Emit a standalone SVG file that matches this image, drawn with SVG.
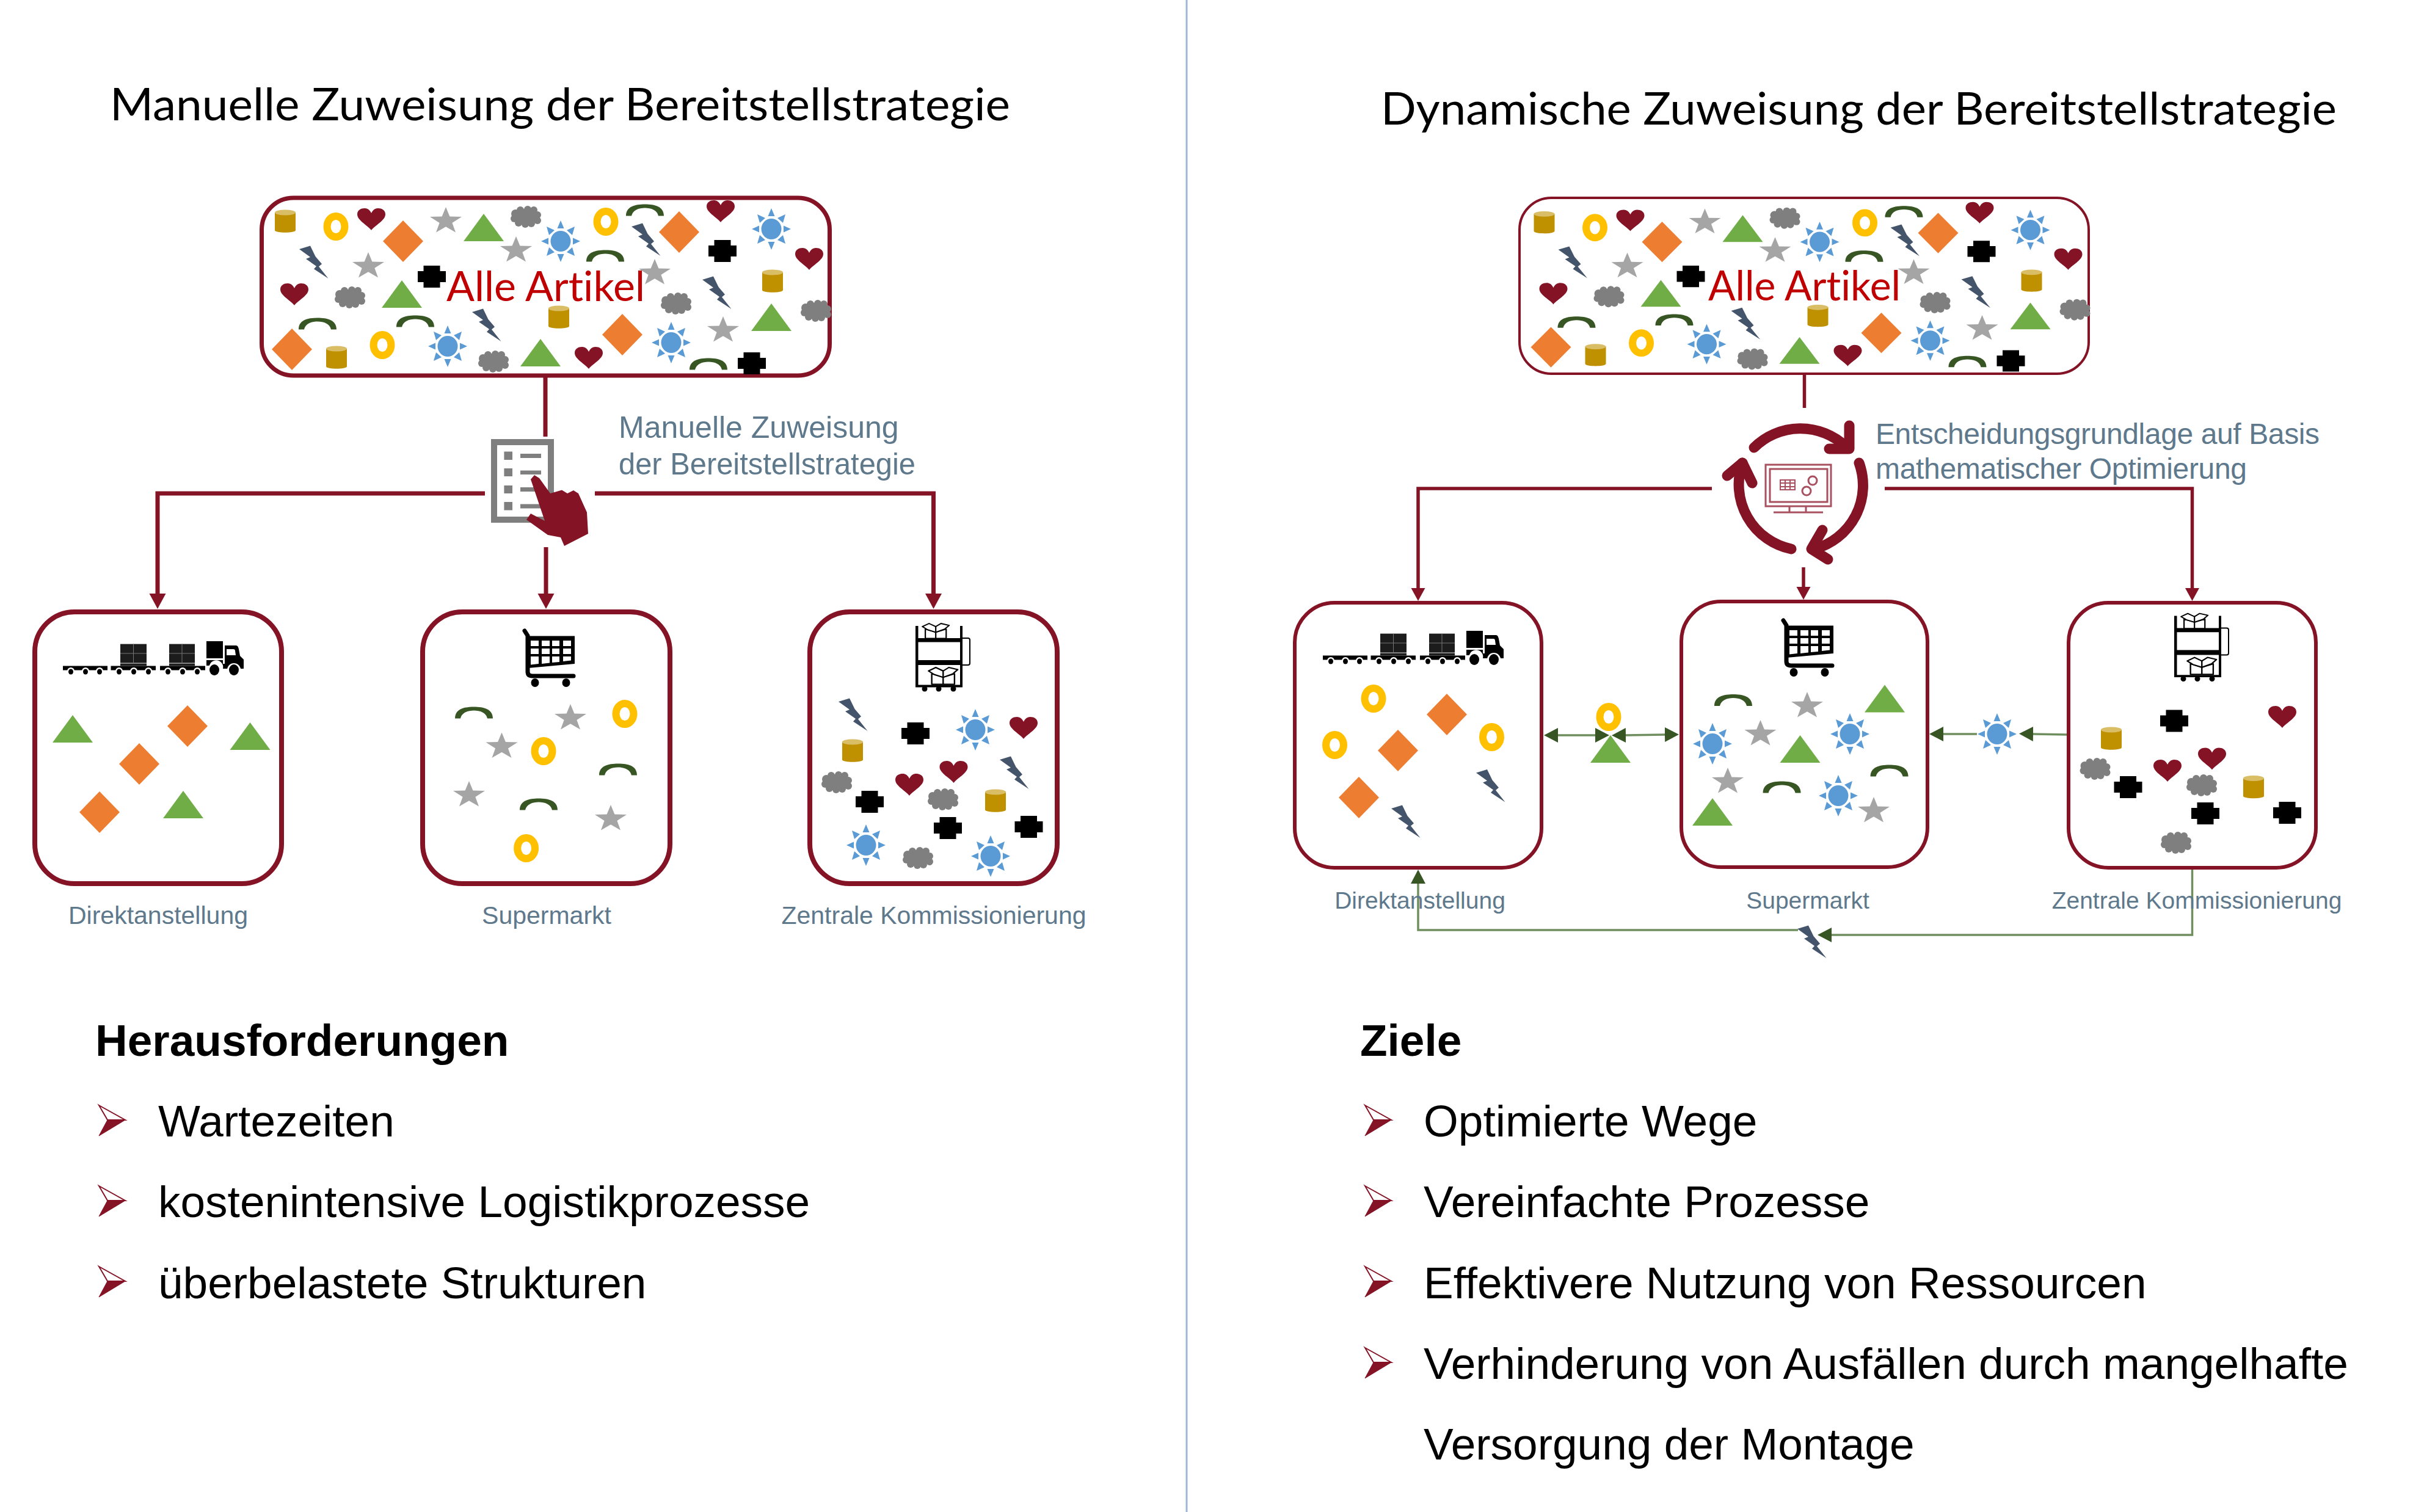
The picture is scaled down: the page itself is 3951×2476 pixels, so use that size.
<svg xmlns="http://www.w3.org/2000/svg" width="3951" height="2476" viewBox="0 0 3951 2476">
<style>
.box{fill:#fff;stroke:#841325;stroke-width:8}
.boxT{fill:#fff;stroke:#841325;stroke-width:6}
.red{fill:none;stroke:#841325;stroke-width:7}
.redT{fill:none;stroke:#841325;stroke-width:5.5}
.grn{fill:none;stroke:#6F8F5F;stroke-width:3.5}
.title{font-family:Lato,"Open Sans",sans-serif;font-size:74px;fill:#000;font-variant-ligatures:none}
.alle{font-family:Lato,"Open Sans",sans-serif;font-size:68px;fill:#C00000;font-variant-ligatures:none}
.lab{font-family:"Liberation Sans",Arial,sans-serif;fill:#5E788C;text-anchor:middle}
.note{font-family:"Liberation Sans",Arial,sans-serif;fill:#5E788C}
.head{font-family:"Liberation Sans",Arial,sans-serif;font-weight:700;font-size:73px;fill:#000}
.item{font-family:"Liberation Sans",Arial,sans-serif;font-size:73px;fill:#000}
.cyc{fill:none;stroke:#841325;stroke-width:17;stroke-linecap:round;stroke-linejoin:round}
.thin{fill:none;stroke:#A8505F;stroke-width:3}
</style>
<defs>
<marker id="ar" markerUnits="userSpaceOnUse" markerWidth="28" markerHeight="28" refX="1" refY="14" orient="auto"><path d="M0 .5L25 14L0 27.5Z" fill="#841325"/></marker>
<marker id="arS" markerUnits="userSpaceOnUse" markerWidth="24" markerHeight="24" refX="1" refY="12" orient="auto"><path d="M0 .5L21 12L0 23.5Z" fill="#841325"/></marker>
<marker id="ag" markerUnits="userSpaceOnUse" markerWidth="24" markerHeight="26" refX="1" refY="13" orient="auto-start-reverse"><path d="M0 1L23 13L0 25Z" fill="#375623"/></marker>
<path id="heart" fill="#841325" d="M0 18C-6 10-23 2-23-8C-23-15-17-18-11-18C-5-18-2-14 0-10C2-14 5-18 11-18C17-18 23-15 23-8C23 2 6 10 0 18Z"/>
<polygon id="dia" fill="#ED7D31" points="0,-34 33,0 0,34 -33,0"/>
<polygon id="tri" fill="#70AD47" points="0,-23 33,22 -33,22"/>
<polygon id="star" fill="#A5A5A5" points="0,-23 6.4,-7.5 26,-7.1 10.4,2.9 16,18.6 0,9.2 -16,18.6 -10.4,2.9 -26,-7.1 -6.4,-7.5"/>
<ellipse id="ring" rx="14.5" ry="17" fill="none" stroke="#FFC000" stroke-width="12"/>
<g id="cyl"><path fill="#BF9000" d="M-17-14V15C-17 20 17 20 17 15V-14Z"/><ellipse cy="-14" rx="17" ry="4.5" fill="#D9BE66"/></g>
<g id="cloud" fill="#7F7F7F"><ellipse rx="20" ry="13"/><circle cx="-17" cy="-5" r="7"/><circle cx="-9" cy="-11" r="6"/><circle cx="3" cy="-12" r="6"/><circle cx="13" cy="-11" r="6"/><circle cx="19" cy="-3" r="6"/><circle cx="19" cy="6" r="6"/><circle cx="9" cy="11" r="6"/><circle cx="-1" cy="12" r="6"/><circle cx="-12" cy="10" r="6"/><circle cx="-19" cy="3" r="6"/></g>
<g id="sun" fill="#5B9BD5"><ellipse rx="16.5" ry="17"/><path d="M0-34L5.5-21H-5.5ZM0 34L5.5 21H-5.5ZM32 0L20 5.5V-5.5ZM-32 0L-20 5.5V-5.5ZM23-24L19-10L10-18ZM-23-24L-19-10L-10-18ZM23 24L19 10L10 18ZM-23 24L-19 10L-10 18Z"/></g>
<path id="arc" fill="#375623" d="M-31 9.5C-31-6-16-9.5 0-9.5C16-9.5 31-6 31 9.5H22C20 0 10-3.5 0-3.5C-10-3.5-20 0-22 9.5Z"/>
<polygon id="bolt" fill="#44546A" points="-24,-21 -6,-26.5 2.5,-9 13,3.3 8,7.5 23.5,27 0,11.6 4,7 -13,-5 -6,-8"/>
<path id="plus" fill="#000" d="M-13.5-18H13.5V-9H23V9H13.5V18H-13.5V9H-23V-9H-13.5Z"/>
<g id="truck"><g fill="#000"><rect y="40.5" width="73" height="7"/><rect x="78.5" y="40.5" width="73.5" height="7"/><rect x="159" y="40.5" width="74" height="7"/></g>
<g fill="#fff"><circle cx="13" cy="49" r="6"/><circle cx="37" cy="49" r="6"/><circle cx="60" cy="49" r="6"/><circle cx="92" cy="49" r="6"/><circle cx="116" cy="49" r="6"/><circle cx="140" cy="49" r="6"/><circle cx="172" cy="49" r="6"/><circle cx="196" cy="49" r="6"/><circle cx="220" cy="49" r="6"/></g>
<g fill="#000"><ellipse cx="13" cy="50" rx="4" ry="4.5"/><ellipse cx="37" cy="50" rx="4" ry="4.5"/><ellipse cx="60" cy="50" rx="4" ry="4.5"/><ellipse cx="92" cy="50" rx="4" ry="4.5"/><ellipse cx="116" cy="50" rx="4" ry="4.5"/><ellipse cx="140" cy="50" rx="4" ry="4.5"/><ellipse cx="172" cy="50" rx="4" ry="4.5"/><ellipse cx="196" cy="50" rx="4" ry="4.5"/><ellipse cx="220" cy="50" rx="4" ry="4.5"/></g>
<g fill="#1C1C1C"><rect x="94" y="4.6" width="43" height="31"/><rect x="174" y="4.6" width="42" height="31"/><rect x="94" y="36.5" width="43" height="4"/><rect x="174" y="36.5" width="42" height="4"/></g>
<path stroke="#777" stroke-width="1" d="M94 20H137M115.500 4.600V35.600M174 20H216M195 4.600V35.600"/>
<path fill="#000" d="M235 0H262V28H235ZM235 31H262V37H265V7H283C286 7 287 9 288 13L290 24L296 30V45H291A11 11 0 0 0 270 45H262A11 11 0 0 0 240 40L235 40Z"/>
<path fill="#fff" d="M268 13H279C281 13 282 14 282 16L283 23H268Z"/>
<circle cx="248" cy="47" r="11" fill="#fff"/><circle cx="280" cy="47" r="11" fill="#fff"/><ellipse cx="248" cy="47" rx="8" ry="9" fill="#000"/><ellipse cx="280" cy="47" rx="8" ry="9" fill="#000"/></g>
<g id="cart"><path fill="none" stroke="#000" stroke-width="7" stroke-linecap="round" d="M4 3L9 11V70C9 75 12 77 17 77H84"/><path fill="#000" d="M9.500 11.500H86V57L9.500 64Z"/>
<path fill="#fff" d="M14 19H27V28H14ZM32 19H45V28H32ZM49 19H61V28H49ZM67 19H80V28H67ZM14 32H27V41H14ZM32 32H45V41H32ZM49 32H61V41H49ZM67 32H80V41H67ZM14 45H27V57L14 58.500ZM32 45H45V55.500L32 57ZM49 45H61V54L49 55ZM67 45H80V51.500L67 53Z"/>
<ellipse cx="21" cy="88" rx="6.500" ry="7"/><ellipse cx="72" cy="88" rx="6.500" ry="7"/></g>
<g id="obox" fill="#fff" stroke="#000" stroke-width="1.800" stroke-linejoin="round"><path d="M5 9V24H33V9L19 14Z"/><path d="M19 14V24"/><path d="M19 14L8 10L1 5L10 0L19 5L26 0L37 3L31 9Z"/><path d="M19 5V14"/></g>
<g id="shelf"><path fill="none" stroke="#000" stroke-width="2" d="M77 24H86Q89 24 89 27V65Q89 68 86 68H77"/><path fill="#000" d="M0 4H4.500V24H73V4H77V104.500H0ZM4.500 30.600V60H73V30.600ZM4.500 68V100.600H73V68Z"/><use href="#obox" transform="translate(10 0) scale(1.220 1.020)"/><use href="#obox" transform="translate(20 72) scale(1.330 1.150)"/><g fill="#000"><circle cx="15" cy="107" r="4.500"/><circle cx="38" cy="107" r="4.500"/><circle cx="62" cy="107" r="4.500"/></g></g>
<g id="bullet"><path fill="#fff" stroke="#841325" stroke-width="2" d="M1 1L44 25L15 25Z"/><path fill="#841325" stroke="#841325" stroke-width="1" d="M15 25H44L1 51Z"/></g>
<g id="cluster"><use href="#cyl" x="467" y="362"/><use href="#ring" x="550" y="371"/><use href="#heart" x="608" y="359"/><use href="#dia" x="660" y="395"/><use href="#star" x="730" y="362"/><use href="#tri" x="792" y="373"/><use href="#cloud" x="861" y="355"/><use href="#ring" x="992" y="363"/><use href="#arc" x="1056" y="344"/><use href="#bolt" x="1058" y="392"/><use href="#dia" x="1112" y="380"/><use href="#heart" x="1180" y="346"/><use href="#sun" x="1263" y="375"/><use href="#star" x="845" y="410"/><use href="#sun" x="918" y="395"/><use href="#arc" x="991" y="419"/><use href="#plus" x="1183" y="411"/><use href="#heart" x="1325" y="424"/><use href="#bolt" x="514" y="429"/><use href="#star" x="603" y="436"/><use href="#plus" x="707" y="453"/><use href="#star" x="1072" y="447"/><use href="#heart" x="482" y="482"/><use href="#cloud" x="573" y="487"/><use href="#tri" x="658" y="482"/><use href="#bolt" x="1174" y="479"/><use href="#cyl" x="1265" y="460"/><use href="#cloud" x="1107" y="497"/><use href="#cloud" x="1336" y="509"/><use href="#tri" x="1263" y="520"/><use href="#arc" x="520" y="530"/><use href="#arc" x="680" y="526"/><use href="#bolt" x="797" y="532"/><use href="#cyl" x="915" y="519"/><use href="#dia" x="1019" y="548"/><use href="#star" x="1184" y="541"/><use href="#dia" x="478" y="572"/><use href="#cyl" x="551" y="585"/><use href="#ring" x="626" y="565"/><use href="#sun" x="733" y="567"/><use href="#cloud" x="808" y="592"/><use href="#tri" x="885" y="578"/><use href="#heart" x="964" y="586"/><use href="#sun" x="1099" y="561"/><use href="#arc" x="1160" y="596"/><use href="#plus" x="1231" y="595"/></g>
</defs>
<rect width="3951" height="2476" fill="#fff"/>
<line x1="1943" y1="0" x2="1943" y2="2476" stroke="#9DB7D5" stroke-width="3"/>
<text class="title" x="180" y="197" textLength="1474" lengthAdjust="spacingAndGlyphs">Manuelle Zuweisung der Bereitstellstrategie</text>
<text class="title" x="2261" y="204" textLength="1565" lengthAdjust="spacingAndGlyphs">Dynamische Zuweisung der Bereitstellstrategie</text>

<g id="connectors">
<path class="red" d="M893 618V715"/>
<path class="red" marker-end="url(#ar)" d="M794 808H258V973"/>
<path class="red" marker-end="url(#ar)" d="M894 896V973"/>
<path class="red" marker-end="url(#ar)" d="M974 808H1528.500V973"/>
<path class="redT" d="M2954.500 613V668"/>
<path class="redT" marker-end="url(#arS)" d="M2803 800H2322V964"/>
<path class="redT" marker-end="url(#arS)" d="M2953 929V962"/>
<path class="redT" marker-end="url(#arS)" d="M3086 800H3589.500V964"/>
<line class="grn" x1="2550" y1="1204" x2="2613" y2="1204" marker-start="url(#ag)" marker-end="url(#ag)"/>
<line class="grn" x1="2661" y1="1204" x2="2727" y2="1203" marker-start="url(#ag)" marker-end="url(#ag)"/>
<line class="grn" x1="3237" y1="1202" x2="3181" y2="1202" marker-end="url(#ag)"/>
<line class="grn" x1="3385" y1="1203" x2="3328" y2="1202" marker-end="url(#ag)"/>
<path class="grn" marker-end="url(#ag)" d="M3589.500 1424V1531H2998"/>
<path class="grn" marker-end="url(#ag)" d="M2944 1523H2322V1446"/>
</g>

<g id="alle-artikel-links"><rect class="box" style="stroke-width:7" x="428.500" y="324" width="930" height="291" rx="52"/><use href="#cluster"/><text class="alle" x="731" y="493" textLength="325" lengthAdjust="spacingAndGlyphs">Alle Artikel</text></g>
<g id="zuweisung-manuell"><rect x="809" y="724" width="93" height="127" fill="#fff" stroke="#7F7F7F" stroke-width="10"/>
<path fill="#7F7F7F" d="M825.400 739.500H839V753H825.400ZM825.400 767H839V780H825.400ZM825.400 795H839V808H825.400ZM825.400 822H839V835.600H825.400ZM852 743H886V750H852ZM852 770.600H886V777H852ZM852 798H886V805H852ZM852 825.600H886V832.500H852Z"/>
<path fill="#841325" d="M869 785L875 778L883 783L901 808L920 802.500L929 808L939 803L947 808L961 839L963 874L924 894L918 880L897 876L862 851L869 841L892 853Z"/></g>
<text class="note" font-size="50" x="1013" y="717">Manuelle Zuweisung</text>
<text class="note" font-size="50" x="1013" y="777" textLength="486" lengthAdjust="spacingAndGlyphs">der Bereitstellstrategie</text>

<g id="direkt-links"><rect class="box" x="57" y="1002" width="404" height="445" rx="65"/><use href="#truck" x="103" y="1050"/><use href="#tri" x="119" y="1194"/><use href="#tri" x="409.500" y="1206"/><use href="#tri" x="300" y="1318"/><use href="#dia" x="307" y="1189"/><use href="#dia" x="228" y="1251"/><use href="#dia" x="163" y="1330"/></g>
<text class="lab" font-size="41" x="259" y="1513">Direktanstellung</text>
<g id="supermarkt-links"><rect class="box" x="692" y="1002" width="405" height="445" rx="65"/><use href="#cart" x="855" y="1030"/><use href="#arc" x="776" y="1167"/><use href="#star" x="934" y="1176"/><use href="#star" x="821.500" y="1222.500"/><use href="#ring" x="890" y="1230"/><use href="#arc" x="1012" y="1260"/><use href="#ring" x="1023" y="1169"/><use href="#star" x="1000" y="1341"/><use href="#star" x="768" y="1302"/><use href="#arc" x="882" y="1317"/><use href="#ring" x="861.600" y="1389"/></g>
<text class="lab" font-size="41" x="895" y="1513">Supermarkt</text>
<g id="zentral-links"><rect class="box" x="1326" y="1002" width="405" height="445" rx="65"/><use href="#shelf" x="1499" y="1021"/><use href="#bolt" x="1397" y="1170"/><use href="#plus" x="1499" y="1201"/><use href="#sun" x="1597" y="1195"/><use href="#heart" x="1676" y="1192"/><use href="#cyl" x="1396" y="1229"/><use href="#bolt" x="1661" y="1265"/><use href="#heart" x="1561.500" y="1264"/><use href="#heart" x="1489" y="1285"/><use href="#cloud" x="1370" y="1281"/><use href="#plus" x="1424" y="1313"/><use href="#cloud" x="1544" y="1309"/><use href="#cyl" x="1630" y="1311"/><use href="#plus" x="1552" y="1356"/><use href="#plus" x="1684.500" y="1354"/><use href="#sun" x="1418" y="1384"/><use href="#cloud" x="1503" y="1405"/><use href="#sun" x="1622" y="1402"/></g>
<text class="lab" font-size="41" x="1529" y="1513">Zentrale Kommissionierung</text>

<g id="herausforderungen"><text class="head" x="156" y="1729">Herausforderungen</text><use href="#bullet" x="161" y="1809"/><text class="item" x="259" y="1861">Wartezeiten</text><use href="#bullet" x="161" y="1941"/><text class="item" x="259" y="1993">kostenintensive Logistikprozesse</text><use href="#bullet" x="161" y="2073"/><text class="item" x="259" y="2125.500">überbelastete Strukturen</text></g>

<g id="alle-artikel-rechts"><rect class="boxT" style="stroke-width:4" x="2488" y="324" width="932" height="288" rx="52"/><use href="#cluster" transform="translate(2061.500 11.400) scale(1 .974)"/><text class="alle" x="2797" y="492" textLength="315" lengthAdjust="spacingAndGlyphs">Alle Artikel</text></g>
<g id="optimierung"><path class="cyc" d="M2872 733A108 108 0 0 1 3022 731"/><path class="cyc" d="M3028 697V735H2995"/><path class="cyc" d="M3044 758A108 108 0 0 1 2971 899"/><path class="cyc" d="M2984 868L2966 899L2993 916"/><path class="cyc" d="M2933 899A108 108 0 0 1 2853 758"/><path class="cyc" d="M2828 779L2853 758L2869 791"/>
<rect class="thin" x="2891" y="761" width="107" height="68"/><rect class="thin" x="2898" y="768" width="94" height="54"/><path class="thin" d="M2930 829V839M2957 829V839M2904 839H2985"/>
<path class="thin" style="stroke-width:2" d="M2915 786H2939V802H2915ZM2923 786V802M2931 786V802M2915 791H2939M2915 797H2939"/><circle class="thin" cx="2968" cy="787" r="7"/><circle class="thin" cx="2958" cy="804" r="7"/></g>
<text class="note" font-size="48" x="3071" y="727" textLength="727">Entscheidungsgrundlage auf Basis</text>
<text class="note" font-size="48" x="3071" y="784" textLength="608">mathematischer Optimierung</text>

<g id="direkt-rechts"><rect class="boxT" x="2120" y="987" width="404" height="434" rx="65"/><use href="#truck" x="2166" y="1033"/><use href="#ring" x="2249" y="1144"/><use href="#dia" x="2369" y="1170"/><use href="#ring" x="2442.500" y="1207"/><use href="#ring" x="2185.500" y="1220"/><use href="#dia" x="2289" y="1229"/><use href="#bolt" x="2441" y="1286.500"/><use href="#dia" x="2225" y="1306"/><use href="#bolt" x="2302" y="1345"/></g>
<text class="lab" font-size="39" x="2325" y="1488">Direktanstellung</text>
<g id="transfer-links"><use href="#ring" x="2634" y="1174"/><use href="#tri" x="2637" y="1227"/></g>
<g id="supermarkt-rechts"><rect class="boxT" x="2753" y="985" width="403" height="435" rx="65"/><use href="#cart" x="2916" y="1013"/><use href="#arc" x="2838" y="1146.500"/><use href="#star" x="2959" y="1156"/><use href="#tri" x="3086" y="1144.500"/><use href="#sun" x="2804" y="1218"/><use href="#star" x="2882.500" y="1202"/><use href="#sun" x="3029" y="1202"/><use href="#tri" x="2947.500" y="1227"/><use href="#star" x="2829" y="1280"/><use href="#arc" x="2917.600" y="1289"/><use href="#sun" x="3010" y="1303"/><use href="#arc" x="3093.600" y="1262"/><use href="#star" x="3068" y="1328"/><use href="#tri" x="2804" y="1330"/></g>
<text class="lab" font-size="39" x="2960" y="1488">Supermarkt</text>
<g id="transfer-rechts"><use href="#sun" x="3270" y="1202"/></g>
<g id="zentral-rechts"><rect class="boxT" x="3387" y="987" width="405" height="434" rx="65"/><use href="#shelf" x="3560" y="1004.600"/><use href="#plus" x="3560" y="1180.500"/><use href="#heart" x="3737" y="1174"/><use href="#cyl" x="3457" y="1209"/><use href="#heart" x="3622" y="1242.600"/><use href="#cloud" x="3430.500" y="1259"/><use href="#heart" x="3549" y="1262"/><use href="#plus" x="3484.500" y="1289"/><use href="#cloud" x="3605" y="1286"/><use href="#cyl" x="3690" y="1288.500"/><use href="#plus" x="3611" y="1332"/><use href="#plus" x="3745" y="1331"/><use href="#cloud" x="3563" y="1380"/></g>
<text class="lab" font-size="39" x="3597" y="1488">Zentrale Kommissionierung</text>
<g id="transfer-unten"><use href="#bolt" x="2967" y="1542"/></g>

<g id="ziele"><text class="head" x="2227" y="1729">Ziele</text><use href="#bullet" x="2234" y="1809"/><text class="item" x="2331" y="1861">Optimierte Wege</text><use href="#bullet" x="2234" y="1941"/><text class="item" x="2331" y="1993">Vereinfachte Prozesse</text><use href="#bullet" x="2234" y="2073"/><text class="item" x="2331" y="2125.500">Effektivere Nutzung von Ressourcen</text><use href="#bullet" x="2234" y="2206"/><text class="item" x="2331" y="2258">Verhinderung von Ausfällen durch mangelhafte</text><text class="item" x="2331" y="2390">Versorgung der Montage</text></g>
</svg>
